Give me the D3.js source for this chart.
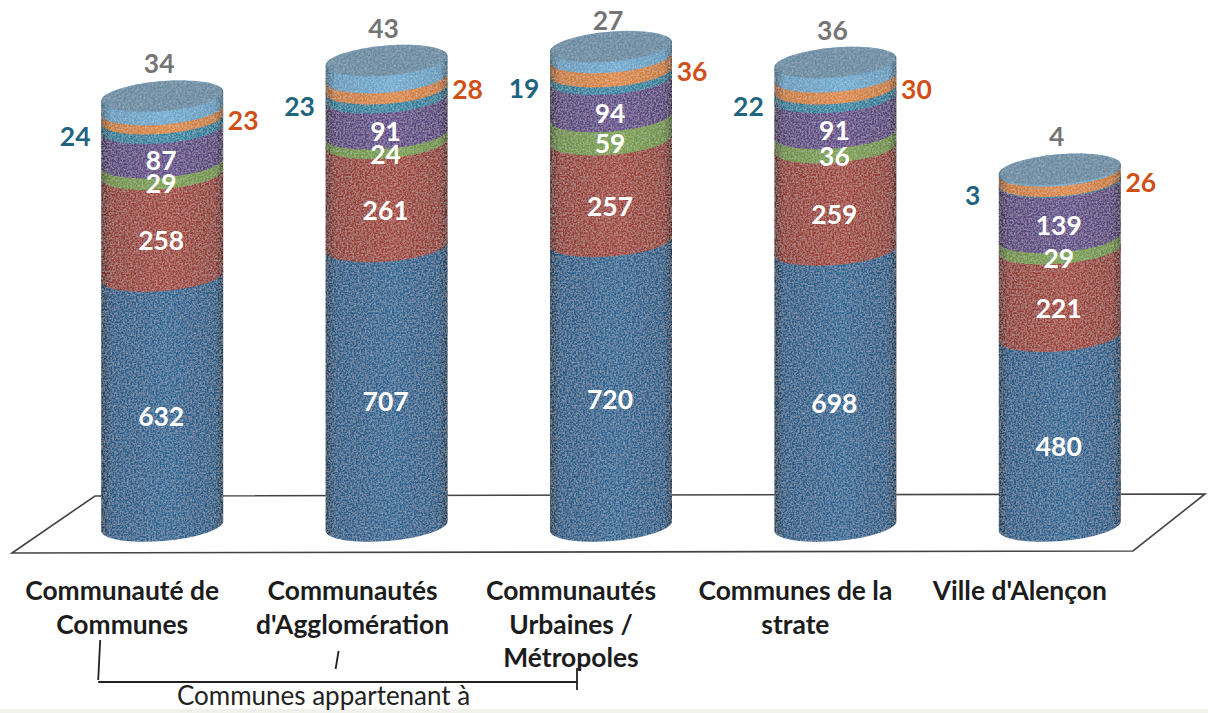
<!DOCTYPE html>
<html>
<head>
<meta charset="utf-8">
<script src="https://cdn.jsdelivr.net/npm/d3@7/dist/d3.min.js"></script>
<style>
  html, body { margin: 0; background: #fff; }
  text { font-family: Lato, "Open Sans", sans-serif; }
</style>
</head>
<body>
<svg id="chart" width="1208" height="713"></svg>
<script>
//
// Data
//
const categories = ['c1', 'c2', 'c3', 'c4', 'c5'];
const categoryLines = [
  ['Communauté de', 'Communes'],
  ['Communautés', "d'Agglomération"],
  ['Communautés', 'Urbaines /', 'Métropoles'],
  ['Communes de la', 'strate'],
  ["Ville d'Alençon"]
];
const seriesNames = ['s1', 's2', 's3', 's4', 's5', 's6', 's7'];
const s1 = [632, 707, 720, 698, 480];
const s2 = [258, 261, 257, 259, 221];
const s3 = [29, 24, 59, 36, 29];
const s4 = [87, 91, 94, 91, 139];
const s5 = [24, 23, 19, 22, 3];
const s6 = [23, 28, 36, 30, 26];
const s7 = [34, 43, 27, 36, 4];
const allSeries = [s1, s2, s3, s4, s5, s6, s7];
const colors = ['#2a628f', '#9b4238', '#769a48', '#5f4884', '#2a829f', '#d5833c', '#6aa5ca'];
const topColor = '#64879f';
const labelTeal = '#1f6480';
const labelOrange = '#cf4f17';
const labelGrey = '#757575';
const bracketLabel = 'Communes appartenant à';

//
// Scales
//
const rows = categories.map((c, i) => {
  const row = {cat: c};
  seriesNames.forEach((s, j) => { row[s] = allSeries[j][i]; });
  return row;
});
const stacked = d3.stack().keys(seriesNames)(rows);
const x = d3.scaleBand().domain(categories).range([50, 1172]).paddingInner(0).paddingOuter(0);
const y = d3.scaleLinear().domain([0, 1300]).range([526, 12]);
const rx = 61, ry = 15, tilt = -4.7;
const dy = rx * Math.sin(-tilt * Math.PI / 180);
const cx = c => x(c) + x.bandwidth() / 2;

//
// Drawing
//
const svg = d3.select('#chart');
const defs = svg.append('defs');

colors.forEach((col, i) => {
  const g = defs.append('linearGradient').attr('id', 'grad' + i);
  const base = d3.color(col);
  g.append('stop').attr('offset', '0%').attr('stop-color', base.darker(1.4));
  g.append('stop').attr('offset', '8%').attr('stop-color', base.darker(0.2));
  g.append('stop').attr('offset', '55%').attr('stop-color', base.brighter(0.1));
  g.append('stop').attr('offset', '93%').attr('stop-color', base.darker(0.2));
  g.append('stop').attr('offset', '100%').attr('stop-color', base.darker(1.4));
});

// scanned paper speckle
const speckle = defs.append('filter').attr('id', 'speckle')
  .attr('x', 0).attr('y', 0).attr('width', 1).attr('height', 1);
speckle.append('feTurbulence').attr('type', 'fractalNoise').attr('baseFrequency', 0.55)
  .attr('numOctaves', 2).attr('seed', 4).attr('result', 'n');
speckle.append('feColorMatrix').attr('in', 'n').attr('type', 'matrix')
  .attr('values', '0 0 0 0 1  0 0 0 0 1  0 0 0 0 1  0.55 0 0 0 -0.2').attr('result', 'a');
speckle.append('feComposite').attr('in', 'a').attr('in2', 'SourceGraphic')
  .attr('operator', 'in').attr('result', 'b');
const merge = speckle.append('feMerge');
merge.append('feMergeNode').attr('in', 'SourceGraphic');
merge.append('feMergeNode').attr('in', 'b');

// scan edge at the bottom of the page
svg.append('rect').attr('x', 0).attr('y', 709).attr('width', 1208).attr('height', 4).attr('fill', '#f1f1ec');

// floor
svg.append('path')
  .attr('d', 'M12,553 L95,496 L1205,494 L1133,551 Z')
  .attr('fill', '#fff')
  .attr('stroke', '#444')
  .attr('stroke-width', 1.6);

function segment(c, v0, v1) {
  const c0 = cx(c);
  const yb = y(v0), yt = y(v1);
  return `M${c0 - rx},${yb + dy}` +
    `A${rx},${ry} ${tilt} 0 0 ${c0 + rx},${yb - dy}` +
    `L${c0 + rx},${yt - dy}` +
    `A${rx},${ry} ${tilt} 0 0 ${c0 - rx},${yt + dy}Z`;
}

const bars = svg.append('g');
stacked.forEach((layer, i) => {
  bars.selectAll('.seg' + i)
    .data(layer)
    .join('path')
    .attr('class', 'seg' + i)
    .attr('d', (d, k) => segment(categories[k], d[0], d[1]))
    .attr('fill', `url(#grad${i})`)
    .attr('filter', 'url(#speckle)');
});

// top faces
bars.selectAll('.top')
  .data(stacked[6])
  .join('ellipse')
  .attr('class', 'top')
  .attr('rx', rx - 1)
  .attr('ry', ry)
  .attr('transform', (d, k) => `translate(${cx(categories[k])},${y(d[1])}) rotate(${tilt})`)
  .attr('fill', topColor)
  .attr('filter', 'url(#speckle)');

// value labels
function valueLabels(i, color, fx, fy) {
  svg.append('g').selectAll('text')
    .data(stacked[i])
    .join('text')
    .attr('x', (d, k) => fx(categories[k]))
    .attr('y', d => fy(d))
    .attr('text-anchor', 'middle')
    .attr('dominant-baseline', 'central')
    .attr('font-size', 26.5)
    .attr('font-weight', 700)
    .attr('fill', color)
    .text((d, k) => allSeries[i][k]);
}
const mid = d => y((d[0] + d[1]) / 2);
[0, 1, 2, 3].forEach(i => valueLabels(i, '#fff', c => cx(c) - 1, d => mid(d) + 15));
valueLabels(4, labelTeal, c => cx(c) - 87, d => mid(d) + 13);
valueLabels(5, labelOrange, c => cx(c) + 81, d => mid(d) + 6);
valueLabels(6, labelGrey, c => cx(c) - 3, d => Math.max(20, y(d[1]) - 33));

// category labels
const catGroup = svg.append('g');
categoryLines.forEach((lines, i) => {
  catGroup.append('text')
    .attr('text-anchor', 'middle')
    .attr('font-size', 26.4)
    .attr('font-weight', 700)
    .attr('fill', '#1c1c1c')
    .selectAll('tspan')
    .data(lines)
    .join('tspan')
    .attr('x', cx(categories[i]) - (i === 1 ? 34 : 40))
    .attr('y', (d, k) => 600 + k * 33.5)
    .text(d => d);
});

// bracket under the first three groups
const bracket = svg.append('g').attr('stroke', '#222').attr('fill', 'none');
const bx0 = cx(categories[0]) - 64, bx1 = cx(categories[2]) - 34;
bracket.append('path').attr('stroke-width', 1.8)
  .attr('d', `M${bx0 + 2},640 L${bx0},680 M${bx0},682 L${bx1},682 M${bx1},668 L${bx1},690`);
bracket.append('path').attr('stroke-width', 1.8)
  .attr('d', `M${cx(categories[1]) - 48},651 L${cx(categories[1]) - 51},669`);

svg.append('text')
  .attr('x', cx(categories[1]) - 63)
  .attr('y', 705)
  .attr('text-anchor', 'middle')
  .attr('font-size', 26)
  .attr('fill', '#222')
  .text(bracketLabel);
</script>
</body>
</html>
